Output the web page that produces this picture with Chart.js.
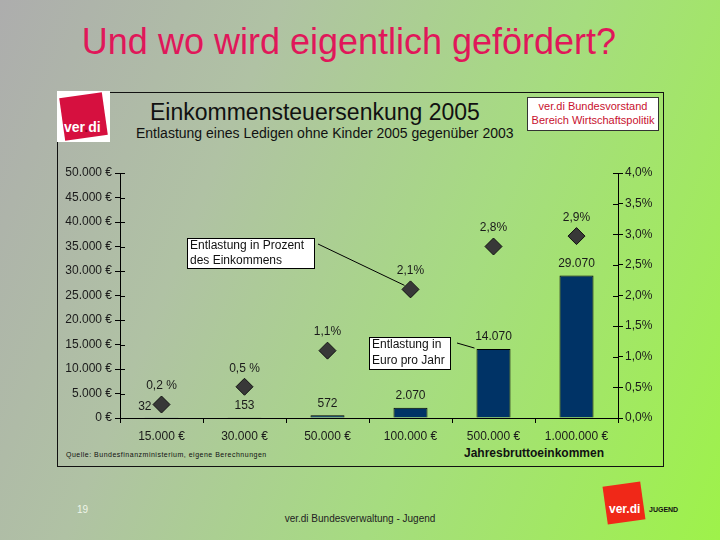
<!DOCTYPE html>
<html><head><meta charset="utf-8">
<script src="https://cdn.jsdelivr.net/npm/chart.js@4/dist/chart.umd.min.js"></script>
<style>
html,body{margin:0;padding:0;}
body{width:720px;height:540px;overflow:hidden;position:relative;font-family:"Liberation Sans",Arial,sans-serif;
background:linear-gradient(112deg,#adadad 0%,#b0c2a4 30%,#a6dc80 62%,#9ef24a 100%);}
#c{position:absolute;left:0;top:0;}
.abs{position:absolute;white-space:nowrap;}
</style></head><body>
<div class="abs" style="left:0;width:698px;text-align:center;top:22px;font-size:36px;line-height:40px;color:#e0175a;">Und wo wird eigentlich gefördert?</div>
<div class="abs" style="left:57px;top:92px;width:605px;height:373px;border:1px solid #111;"></div>
<div class="abs" style="left:57px;top:91px;width:53px;height:51px;background:#fff;overflow:hidden;">
  <div style="position:absolute;left:5px;top:4px;width:43px;height:43px;background:#d6103f;transform:rotate(-8deg);"></div>
  <div style="position:absolute;left:7px;top:28px;font-size:14px;font-weight:bold;color:#fff;">ver<span style="color:#8a0020">.</span>di</div>
</div>
<div class="abs" style="left:150px;top:99px;font-size:23px;line-height:26px;color:#111;">Einkommensteuersenkung 2005</div>
<div class="abs" style="left:136px;top:125px;font-size:14px;line-height:16px;color:#111;">Entlastung eines Ledigen ohne Kinder 2005 gegenüber 2003</div>
<div class="abs" style="left:527px;top:97px;width:130px;height:30px;background:#fff;border:1px solid #333;color:#c8102e;font-size:11px;line-height:13.5px;text-align:center;padding-top:2px;">ver.di Bundesvorstand<br>Bereich Wirtschaftspolitik</div>
<div class="abs" style="left:66px;top:451px;font-size:7px;letter-spacing:0.5px;color:#111;">Quelle: Bundesfinanzministerium, eigene Berechnungen</div>
<div class="abs" style="left:464px;top:446px;font-size:12px;font-weight:bold;color:#111;">Jahresbruttoeinkommen</div>
<div class="abs" style="left:77px;top:504px;font-size:10px;color:#eef5e8;">19</div>
<div class="abs" style="left:0;width:720px;text-align:center;top:513px;font-size:10px;color:#222;">ver.di Bundesverwaltung - Jugend</div>
<div class="abs" style="left:605px;top:484px;width:38px;height:38px;background:#f02818;transform:rotate(-8deg);"></div>
<div class="abs" style="left:609px;top:502px;font-size:12px;font-weight:bold;color:#fff;">ver.di</div>
<div class="abs" style="left:649px;top:506px;font-size:7px;font-weight:bold;color:#111;">JUGEND</div>
<canvas id="c" width="720" height="540"></canvas>
<script>
const categories = ['15.000 €','30.000 €','50.000 €','100.000 €','500.000 €','1.000.000 €'];
const reliefEuro = [32, 153, 572, 2070, 14070, 29070];
const reliefPct = [0.22, 0.51, 1.1, 2.1, 2.8, 2.97];
const reliefPctLabels = ['0,2 %','0,5 %','1,1%','2,1%','2,8%','2,9%'];
const euroTickLabels = ['0 €','5.000 €','10.000 €','15.000 €','20.000 €','25.000 €','30.000 €','35.000 €','40.000 €','45.000 €','50.000 €'];
const pctTickLabels = ['0,0%','0,5%','1,0%','1,5%','2,0%','2,5%','3,0%','3,5%','4,0%'];

const fmt = v => String(v).replace(/\B(?=(\d{3})+(?!\d))/g, '.');
const FONT = '"Liberation Sans", Arial, sans-serif';

const labelPlugin = {
  id: 'labels',
  afterDatasetsDraw(chart) {
    const ctx = chart.ctx;
    const bars = chart.getDatasetMeta(0).data;
    const pts = chart.getDatasetMeta(1).data;
    const ca = chart.chartArea;
    ctx.save();
    ctx.strokeStyle = '#000'; ctx.lineWidth = 1;
    ['y','y1'].forEach(id => {
      const s = chart.scales[id];
      s.ticks.forEach((t, i) => {
        const y = Math.round(s.getPixelForTick(i)) + 0.5;
        ctx.beginPath();
        if (id === 'y') { ctx.moveTo(ca.left, y); ctx.lineTo(ca.left + 5, y); }
        else { ctx.moveTo(ca.right - 5, y); ctx.lineTo(ca.right, y); }
        ctx.stroke();
      });
    });
    ctx.font = '12px ' + FONT;
    ctx.fillStyle = '#1a1a1a';
    ctx.textBaseline = 'middle';
    bars.forEach((b, i) => {
      const ly = b.y - 12;
      const p = pts[i];
      if (Math.abs(ly - p.y) < 12) {
        ctx.textAlign = 'right';
        ctx.fillText(fmt(reliefEuro[i]), p.x - 10, ly + 1);
      } else {
        ctx.textAlign = 'center';
        ctx.fillText(fmt(reliefEuro[i]), b.x, ly);
      }
    });
    ctx.textAlign = 'center';
    pts.forEach((p, i) => ctx.fillText(reliefPctLabels[i], p.x, p.y - 18.5));
    ctx.fillStyle = '#fff'; ctx.strokeStyle = '#000';
    ctx.fillRect(187, 238, 127, 30); ctx.strokeRect(187.5, 238.5, 127, 30);
    ctx.fillStyle = '#111'; ctx.textAlign = 'left';
    ctx.fillText('Entlastung in Prozent', 190, 246);
    ctx.fillText('des Einkommens', 190, 261);
    ctx.beginPath(); ctx.moveTo(318, 244); ctx.lineTo(pts[3].x - 6, pts[3].y - 4); ctx.stroke();
    ctx.fillStyle = '#fff';
    ctx.fillRect(369, 337, 81, 32); ctx.strokeRect(369.5, 337.5, 81, 32);
    ctx.fillStyle = '#111';
    ctx.fillText('Entlastung in', 372, 345);
    ctx.fillText('Euro pro Jahr', 372, 361);
    const b4 = bars[4];
    ctx.beginPath(); ctx.moveTo(457, 343); ctx.lineTo(b4.x - b4.width / 2 - 2, b4.y - 1); ctx.stroke();
    ctx.restore();
  }
};

new Chart(document.getElementById('c'), {
  type: 'bar',
  data: {
    labels: categories,
    datasets: [
      { type: 'bar', data: reliefEuro, yAxisID: 'y', backgroundColor: '#003366', borderColor: '#000', borderWidth: 1,
        categoryPercentage: 1, barPercentage: 0.41, order: 2 },
      { type: 'line', data: reliefPct, yAxisID: 'y1', showLine: false, pointStyle: 'rectRot', pointRadius: 8.5,
        backgroundColor: '#383838', borderColor: '#111', borderWidth: 1, order: 1 }
    ]
  },
  options: {
    responsive: false, animation: false, devicePixelRatio: 1,
    layout: { padding: { left: 0, right: 0, top: 173, bottom: 92 } },
    plugins: { legend: { display: false }, tooltip: { enabled: false } },
    scales: {
      x: {
        offset: true,
        grid: { offset: true, drawOnChartArea: false, color: '#000', tickLength: 5 },
        border: { color: '#000', width: 1 },
        ticks: { font: { family: FONT, size: 12 }, color: '#1a1a1a', padding: 6, maxRotation: 0 },
        afterFit(s) { s.height = 30; }
      },
      y: {
        position: 'left', min: 0, max: 50000,
        ticks: { stepSize: 5000, font: { family: FONT, size: 12 }, color: '#1a1a1a', padding: 3,
          callback: (v, i) => euroTickLabels[i] },
        grid: { drawOnChartArea: false, color: '#000', tickLength: 5 },
        border: { color: '#000', width: 1 },
        afterFit(s) { s.width = 120; }
      },
      y1: {
        position: 'right', min: 0, max: 4,
        ticks: { stepSize: 0.5, font: { family: FONT, size: 12 }, color: '#1a1a1a', padding: 2,
          callback: (v, i) => pctTickLabels[i] },
        grid: { drawOnChartArea: false, color: '#000', tickLength: 5 },
        border: { color: '#000', width: 1 },
        afterFit(s) { s.width = 102; }
      }
    }
  },
  plugins: [labelPlugin]
});
</script>
</body></html>
